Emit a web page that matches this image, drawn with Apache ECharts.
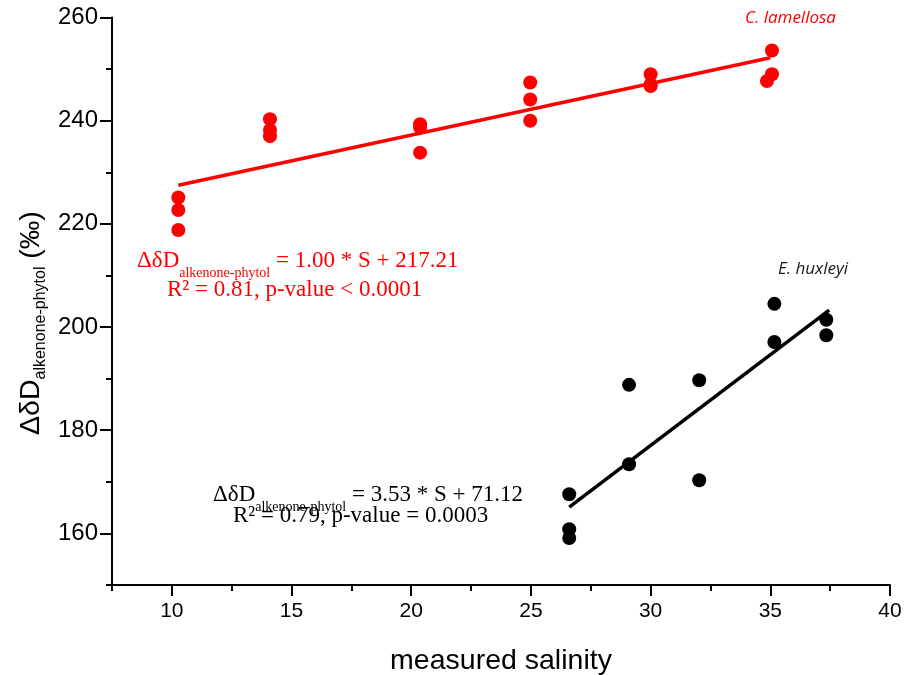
<!DOCTYPE html>
<html>
<head>
<meta charset="utf-8">
<script src="https://cdn.jsdelivr.net/npm/echarts@6/dist/echarts.min.js"></script>
<style>
html,body{margin:0;padding:0;background:#fff;}
#c{width:905px;height:675px;}
</style>
</head>
<body>
<div id="c"></div>
<script>
// ---- data ----
var redX = [10.27, 10.27, 10.27, 14.1, 14.1, 14.1, 20.37, 20.37, 20.37, 24.97, 24.97, 24.97, 30.0, 30.0, 30.0, 34.86, 35.07, 35.07];
var redY = [225.1, 222.7, 218.8, 240.3, 238.2, 237.0, 239.3, 238.7, 233.8, 247.4, 244.1, 240.0, 249.0, 247.0, 246.7, 247.7, 249.0, 253.6];
var blackX = [26.6, 26.6, 26.6, 29.1, 29.1, 32.03, 32.03, 35.17, 35.17, 37.34, 37.34];
var blackY = [167.6, 160.8, 159.1, 188.8, 173.4, 189.7, 170.3, 204.5, 197.1, 201.4, 198.4];
var redFitX = [10.27, 35.0];
var redFitY = [227.5, 252.2];
var blackFitX = [26.6, 37.46];
var blackFitY = [165.1, 203.3];
var xMajorTicks = [10, 15, 20, 25, 30, 35, 40];
var xMinorTicks = [7.5, 12.5, 17.5, 22.5, 27.5, 32.5, 37.5];
var yMajorTicks = [160, 180, 200, 220, 240, 260];
var yMinorTicks = [150, 170, 190, 210, 230, 250];

function pairs(xs, ys) { return xs.map(function (x, i) { return [x, ys[i]]; }); }

var serif = "'Liberation Serif', 'Times New Roman', serif";
var sans = "'Liberation Sans', Arial, sans-serif";

var mctx = document.createElement('canvas').getContext('2d');
function tw(text, size, family) { mctx.font = size + 'px ' + family; return mctx.measureText(text).width; }
function hasFont(name) {
  var a = tw('mmmmwwwwiiii10', 40, "'" + name + "', monospace");
  var b = tw('mmmmwwwwiiii10', 40, 'monospace');
  return Math.abs(a - b) > 0.5;
}
var narrowOK = hasFont('Liberation Sans Narrow');
var xLabelFamily = narrowOK ? "'Liberation Sans Narrow', 'Liberation Sans', sans-serif" : sans;
var xLabelSize = narrowOK ? 25 : 21;

// horizontal equation built from pieces: main / subscript / main, placed by baseline
function eqPieces(x, baseline, main1, sub, main2, color, mainSize, subSize, subDrop) {
  var els = [];
  var cx = x;
  var topOff = 0.78;
  els.push({ type: 'text', x: cx, y: baseline - topOff * mainSize, style: { text: main1, fontFamily: serif, fontSize: mainSize, fill: color, verticalAlign: 'top' } });
  cx += tw(main1, mainSize, serif);
  els.push({ type: 'text', x: cx, y: baseline + subDrop - topOff * subSize, style: { text: sub, fontFamily: serif, fontSize: subSize, fill: color, verticalAlign: 'top' } });
  cx += tw(sub, subSize, serif);
  els.push({ type: 'text', x: cx, y: baseline - topOff * mainSize, style: { text: main2, fontFamily: serif, fontSize: mainSize, fill: color, verticalAlign: 'top' } });
  return els;
}

// vertical (rotated) axis title: pieces running upward from bottom y0, baseline at bx
function yTitle(bx, y0, mainSize, subSize, subDrop) {
  var m1 = 'ΔδD', s = 'alkenone-phytol', m2 = ' (‰)';
  var w1 = tw(m1, mainSize, sans), ws = tw(s, subSize, sans);
  var topOff = 0.78;
  var rot = Math.PI / 2;
  return [
    { type: 'text', x: bx - topOff * mainSize, y: y0, rotation: rot, style: { text: m1, fontFamily: sans, fontSize: mainSize, fill: '#000', verticalAlign: 'top' } },
    { type: 'text', x: bx + subDrop - topOff * subSize, y: y0 - w1, rotation: rot, style: { text: s, fontFamily: sans, fontSize: subSize, fill: '#000', verticalAlign: 'top' } },
    { type: 'text', x: bx - topOff * mainSize, y: y0 - w1 - ws, rotation: rot, style: { text: m2, fontFamily: sans, fontSize: mainSize, fill: '#000', verticalAlign: 'top' } }
  ];
}

var chart = echarts.init(document.getElementById('c'), null, { renderer: 'canvas' });
var axisLineStyle = { color: '#000', width: 2 };

var graphics = [
  { type: 'text', x: 745, y: 10, style: { text: 'C. lamellosa', fontFamily: "'Open Sans', sans-serif", fontStyle: 'italic', fontSize: 17, fill: '#ff0000' } },
  { type: 'text', x: 778, y: 261, style: { text: 'E. huxleyi', fontFamily: "'Open Sans', sans-serif", fontStyle: 'italic', fontSize: 17, fill: '#1a1a1a' } },
  { type: 'text', x: 167, y: 278, style: { text: 'R² = 0.81, p-value < 0.0001', fontFamily: serif, fontSize: 23, fill: '#ff0000' } },
  { type: 'text', x: 233, y: 504, style: { text: 'R² = 0.79, p-value = 0.0003', fontFamily: serif, fontSize: 23, fill: '#000' } }
];
graphics = graphics
  .concat(eqPieces(137, 267, 'ΔδD', 'alkenone-phytol', ' = 1.00 * S + 217.21', '#ff0000', 23, 14, 10))
  .concat(eqPieces(213, 501, 'ΔδD', 'alkenone-phytol', ' = 3.53 * S + 71.12', '#000', 23, 14, 10))
  .concat(yTitle(39, 435, 28.5, 16, 6));

var option = {
  animation: false,
  backgroundColor: '#fff',
  grid: { left: 112, right: 15, top: 17.5, bottom: 90, containLabel: false, outerBoundsMode: 'none' },
  xAxis: [
    {
      type: 'value', min: 7.5, max: 40, position: 'bottom',
      axisLine: { show: true, onZero: false, lineStyle: axisLineStyle },
      axisTick: { show: true, customValues: xMajorTicks, length: 11, lineStyle: axisLineStyle },
      axisLabel: { show: true, customValues: xMajorTicks, fontFamily: xLabelFamily, fontSize: xLabelSize, color: '#000', margin: 16 },
      splitLine: { show: false },
      name: 'measured salinity', nameLocation: 'middle', nameGap: 62,
      nameTextStyle: { fontFamily: sans, fontSize: 28.5, color: '#000' }
    },
    {
      type: 'value', min: 7.5, max: 40, position: 'bottom',
      axisLine: { show: false, onZero: false },
      axisTick: { show: true, customValues: xMinorTicks, length: 6, lineStyle: axisLineStyle },
      axisLabel: { show: false },
      splitLine: { show: false }
    }
  ],
  yAxis: [
    {
      type: 'value', min: 150, max: 260, position: 'left',
      axisLine: { show: true, onZero: false, lineStyle: axisLineStyle },
      axisTick: { show: true, customValues: yMajorTicks, length: 12, lineStyle: axisLineStyle },
      axisLabel: { show: true, customValues: yMajorTicks, fontFamily: sans, fontSize: 24, color: '#000', margin: 14 },
      splitLine: { show: false }
    },
    {
      type: 'value', min: 150, max: 260, position: 'left',
      axisLine: { show: false, onZero: false },
      axisTick: { show: true, customValues: yMinorTicks, length: 6, lineStyle: axisLineStyle },
      axisLabel: { show: false },
      splitLine: { show: false }
    }
  ],
  series: [
    {
      type: 'line', data: pairs(redFitX, redFitY), xAxisIndex: 0, yAxisIndex: 0,
      showSymbol: false, symbol: 'none', lineStyle: { color: '#ff0000', width: 3.5 }, z: 2
    },
    {
      type: 'line', data: pairs(blackFitX, blackFitY), xAxisIndex: 0, yAxisIndex: 0,
      showSymbol: false, symbol: 'none', lineStyle: { color: '#000', width: 3.5 }, z: 2
    },
    {
      type: 'scatter', data: pairs(redX, redY), xAxisIndex: 0, yAxisIndex: 0,
      symbol: 'circle', symbolSize: 14, itemStyle: { color: '#ff0000', opacity: 1 }, z: 3
    },
    {
      type: 'scatter', data: pairs(blackX, blackY), xAxisIndex: 0, yAxisIndex: 0,
      symbol: 'circle', symbolSize: 14, itemStyle: { color: '#000', opacity: 1 }, z: 3
    }
  ],
  graphic: graphics
};
chart.setOption(option);
</script>
</body>
</html>
